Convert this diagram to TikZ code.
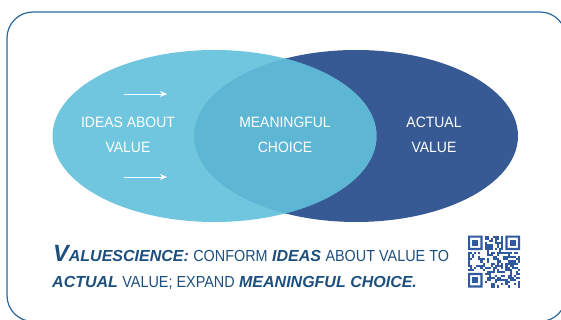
\documentclass[tikz,border=0pt]{standalone}
\usepackage{fontspec}
\setmainfont{Liberation Sans}
\newfontfamily\narrowfont{Liberation Sans}[FakeStretch=0.9]
\newfontfamily\labelfont{Liberation Sans}[FakeStretch=0.93]
\usepackage{xcolor}
\usetikzlibrary{shapes.geometric, arrows.meta, positioning}

\definecolor{ideasfill}{HTML}{71C6DF}
\definecolor{actualfill}{HTML}{375A95}
\definecolor{choicefill}{HTML}{5EB6D5}
\definecolor{framecol}{HTML}{2A6798}
\definecolor{slogancol}{HTML}{1D4F7E}
\definecolor{qrcol}{HTML}{3059A0}

\begin{document}
\begin{tikzpicture}[x=1pt, y=-1pt]
            % Styles
            \tikzstyle{venn} = [ellipse, inner sep=0pt, minimum width=324pt, minimum height=172pt]
            \tikzstyle{vennlabel} = [text=white, align=center, inner sep=0pt, font=\labelfont\fontsize{15}{25}\selectfont]
            \tikzstyle{slogan} = [anchor=base west, inner sep=0pt, text=slogancol, font=\fontsize{16}{19}\selectfont]
            \tikzstyle{hint} = [white, line width=0.9pt, -{Stealth[length=7pt, width=6pt]}]
            \tikzstyle{frame} = [draw=framecol, line width=1.2pt, rounded corners=26pt]

            \useasboundingbox (0,0) rectangle (561,320);

            % Card outline
            \draw[frame] (7,12) rectangle (566,321.5);

            % Venn circles
            \node[venn, fill=actualfill] (actual) at (356,136) {};
            \node[venn, fill=ideasfill] (ideas) at (214.5,136) {};
            \begin{scope}
                \clip (ideas.center) ellipse [x radius=162pt, y radius=86pt];
                \fill[choicefill] (actual.center) ellipse [x radius=162pt, y radius=86pt];
            \end{scope}

            % Labels
            \node[vennlabel] (ideas_lbl) at (128,135) {IDEAS ABOUT\\VALUE};
            \node[vennlabel] (choice_lbl) at (285,135) {MEANINGFUL\\CHOICE};
            \node[vennlabel] (actual_lbl) at (434,135) {ACTUAL\\VALUE};

            % Arrows above and below the left label
            \coordinate (upper_from) at (124,94);
            \coordinate (upper_to) at (167,94);
            \coordinate (lower_from) at (124,177);
            \coordinate (lower_to) at (167,177);
            \draw[hint] (upper_from) -- (upper_to);
            \draw[hint] (lower_from) -- (lower_to);

            % Slogan
            \node[slogan] (slogan1) at (53,261) {{\bfseries\itshape{\fontsize{23.5}{23.5}\selectfont V}ALUESCIENCE:} {\narrowfont CONFORM} {\bfseries\itshape IDEAS} {\narrowfont ABOUT VALUE TO}};
            \node[slogan] (slogan2) at (52,287) {{\bfseries\itshape ACTUAL} {\narrowfont VALUE; EXPAND} {\bfseries\itshape MEANINGFUL CHOICE.}};

            % QR code
            \def\qm{2.08}
            \begin{scope}[shift={(468,235.5)}]
                \pgfmathsetseed{4242}
                \foreach \i in {0,...,24} {
                    \foreach \j in {0,...,24} {
                        \pgfmathtruncatemacro\qfree{!((\i<8 && \j<8) || (\i>16 && \j<8) || (\i<8 && \j>16))}
                        \pgfmathtruncatemacro\qdot{rnd<0.5}
                        \ifnum\qfree=1
                            \ifnum\qdot=1
                                \fill[qrcol] (\i*\qm,\j*\qm) rectangle ++(\qm,\qm);
                            \fi
                        \fi
                    }
                }
                \foreach \fx/\fy in {0/0, 18/0, 0/18} {
                    \fill[qrcol, even odd rule] (\fx*\qm,\fy*\qm) rectangle ++(7*\qm,7*\qm)
                        (\fx*\qm+\qm,\fy*\qm+\qm) rectangle ++(5*\qm,5*\qm);
                    \fill[qrcol] (\fx*\qm+2*\qm,\fy*\qm+2*\qm) rectangle ++(3*\qm,3*\qm);
                }
            \end{scope}
        \end{tikzpicture}
\end{document}
